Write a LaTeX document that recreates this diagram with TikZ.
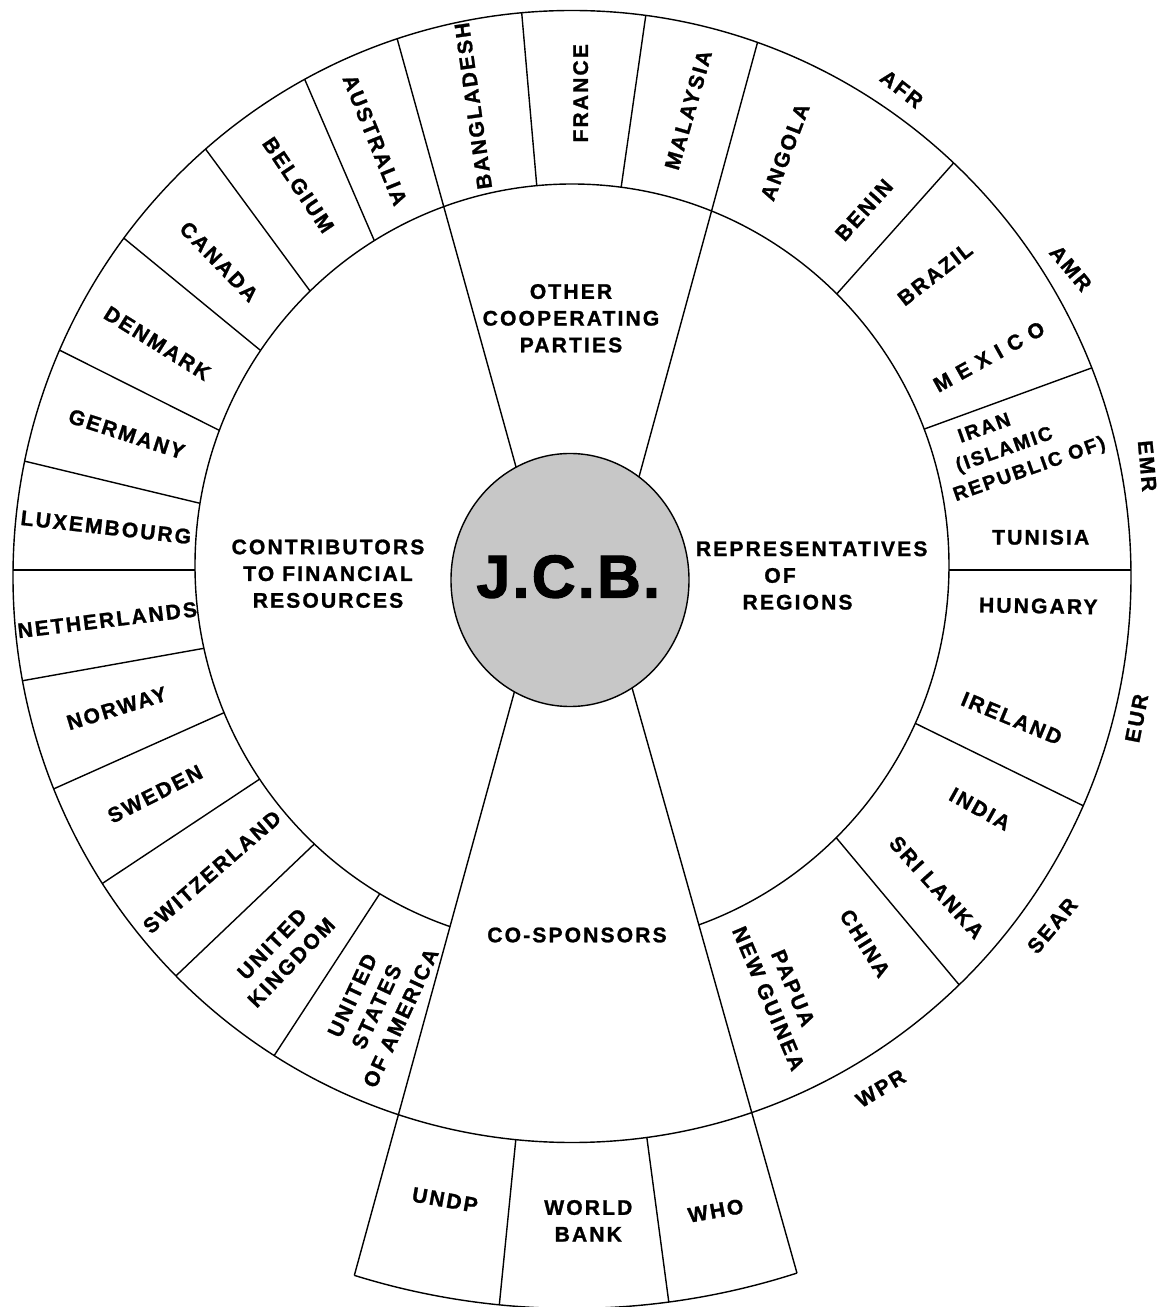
\documentclass[tikz,border=0pt]{standalone}
\usepackage{fontspec}
\usepackage{tikz}
\usetikzlibrary{calc}

\newfontfamily\lblfont{Liberation Sans}[LetterSpace=10, FakeBold=1.2]
\newfontfamily\wideletters{Liberation Sans}[LetterSpace=38, FakeBold=1.2]
\newfontfamily\jcbfont{Liberation Sans}[LetterSpace=4, FakeBold=2]

\begin{document}
\begin{tikzpicture} [x=0.025cm, y=0.025cm, line width=1pt,
  lbl/.style={font=\lblfont\bfseries\fontsize{15pt}{19pt}\selectfont, align=center, inner sep=0pt}]

\useasboundingbox (-572,-736) rectangle (593,571);

\coordinate (oc) at(0,-5.5);
\coordinate (mc) at(0,5.5);
\coordinate (ic) at(-2,-9);

\coordinate (tl) at(-57,107.7);
\coordinate (tlo) at(-174.7,531.7);
\coordinate (tr) at(68,97.7);
\coordinate (tro) at(185.3,527.7);
\coordinate (bl) at(-60.3,-130.7);
\coordinate (br) at(63,-127.3);
\path (oc) ++(252.7:732) coordinate (blo);
\path (oc) ++(287.9:732) coordinate (bro);

\begin{scope}
\clip (oc) ellipse [x radius=559, y radius=566];
\foreach \mx/\my/\ox/\oy in {-198.7/332.7/-267/491, -262.7/281/-367/422.7, -312/221/-448/332.7,
    -352/140.3/-512.7/221, -372/67.7/-548/110, -377/1/-558/1, -368/-77.3/-549.3/-109.7,
    -349.3/-142.3/-517/-217.3, -313.7/-209/-467/-310.7, -258.7/-274/-392.7/-401.7,
    -193.7/-325/-295.3/-480.7, -35.3/386/-50.3/558.3, 49/382.7/74/557,
    264.7/277/381.3/407.7, 349.7/141/518.7/202.7, 374/1/559/1,
    342/-151.7/509.7/-234, 264.7/-267.3/387.3/-414}
  \draw ($(\mx,\my)!-0.1!(\ox,\oy)$) -- ($(\ox,\oy)!-0.1!(\mx,\my)$);
\end{scope}

\fill[white] (mc) ellipse [x radius=377, y radius=381.5];

\begin{scope}
\clip (oc) ellipse [x radius=559, y radius=566];
\draw ($(tl)!-0.05!(tlo)$) -- ($(tlo)!-0.1!(tl)$);
\draw ($(tr)!-0.05!(tro)$) -- ($(tro)!-0.1!(tr)$);
\end{scope}
\draw ($(bl)!-0.03!(blo)$) -- (blo);
\draw ($(br)!-0.03!(bro)$) -- (bro);

\begin{scope}
\clip (blo) -- (bl) -- (br) -- (bro) -- (700,-800) -- (700,700) -- (-700,700) -- (-700,-800) -- cycle;
\draw (mc) ellipse [x radius=377, y radius=381.5];
\end{scope}

\draw (oc) ellipse [x radius=559, y radius=566];
\draw (blo) arc [start angle=252.7, end angle=287.9, radius=732];
\draw ($(oc)+(264.3:565.5)$) -- ($(oc)+(264.3:732)$);
\draw ($(oc)+(277.6:565.5)$) -- ($(oc)+(277.6:732)$);

\draw[fill=black!22] (ic) ellipse [x radius=119, y radius=126.5];
\node[font=\jcbfont\bfseries\fontsize{43pt}{43pt}\selectfont, inner sep=0pt] (jcb) at(-3.7,-5.7) {J.C.B.};

\node[lbl] (other) at(-1,252.7) {OTHER\\COOPERATING\\PARTIES};
\node[lbl] (contrib) at(-244,-2.7) {CONTRIBUTORS\\TO FINANCIAL\\RESOURCES};
\node[lbl, align=left] (reps) at(239.7,-4.5) {REPRESENTATIVES\\\hspace*{1.71cm}OF\\\hspace*{1.165cm}REGIONS};
\node[lbl] (cosp) at(5,-364) {CO-SPONSORS};

\node[lbl, rotate=98] (bangladesh) at(-98.7,465) {BANGLADESH};
\node[lbl, rotate=90] (france) at(8.7,477.7) {FRANCE};
\node[lbl, rotate=74] (malaysia) at(116.3,461) {MALAYSIA};

\node[lbl, rotate=-68] (australia) at(-197,431) {AUSTRALIA};
\node[lbl, rotate=-56] (belgium) at(-273.7,386) {BELGIUM};
\node[lbl, rotate=-46] (canada) at(-353,309.3) {CANADA};
\node[lbl, rotate=-32] (denmark) at(-414.7,227.7) {DENMARK};
\node[lbl, rotate=-18] (germany) at(-445.3,137) {GERMANY};
\node[lbl, rotate=-6.5] (luxembourg) at(-466,43.7) {LUXEMBOURG};
\node[lbl, rotate=7] (netherlands) at(-464.7,-49) {NETHERLANDS};
\node[lbl, rotate=17] (norway) at(-455.3,-137.3) {NORWAY};
\node[lbl, rotate=27] (sweden) at(-417,-223) {SWEDEN};
\node[lbl, rotate=41] (switzerland) at(-360,-301) {SWITZERLAND};
\node[lbl, rotate=46] (uk) at(-290.3,-382.3) {UNITED\\KINGDOM};
\node[lbl, rotate=65] (usa) at(-195.3,-435.7) {UNITED\\STATES\\OF AMERICA};

\node[lbl, rotate=69] (angola) at(213,419) {ANGOLA};
\node[lbl, rotate=48] (benin) at(292,361) {BENIN};
\node[lbl, rotate=38] (brazil) at(363,297) {BRAZIL};
\node[lbl, font=\wideletters\bfseries\fontsize{15pt}{19pt}\selectfont, rotate=29] (mexico) at(417,214.3) {MEXICO};
\node[lbl, font=\lblfont\bfseries\fontsize{14pt}{19pt}\selectfont, align=left, rotate=19.5] (iran) at(448.8,126) {\hspace*{0.6cm}IRAN\\\hspace*{0.3cm}(ISLAMIC\\REPUBLIC OF)};
\node[lbl] (tunisia) at(468.7,33.7) {TUNISIA};
\node[lbl, rotate=-1] (hungary) at(466.3,-35) {HUNGARY};
\node[lbl, rotate=-22.5] (ireland) at(439.7,-147.3) {IRELAND};
\node[lbl, rotate=-29] (india) at(408,-238) {INDIA};
\node[lbl, rotate=-48] (srilanka) at(364.7,-316.3) {SRI LANKA};
\node[lbl, rotate=-58] (china) at(293,-372.3) {CHINA};
\node[lbl, rotate=-67] (png) at(208.7,-422.3) {PAPUA\\NEW GUINEA};

\node[lbl, rotate=-38] (afr) at(329.7,482) {AFR};
\node[lbl, rotate=-50] (amr) at(498.7,302.7) {AMR};
\node[lbl, rotate=-85] (emr) at(575.3,105) {EMR};
\node[lbl, rotate=79] (eur) at(564.7,-147.3) {EUR};
\node[lbl, rotate=50] (sear) at(480.3,-354.7) {SEAR};
\node[lbl, rotate=31] (wpr) at(308.7,-517.3) {WPR};

\node[lbl, rotate=-10] (undp) at(-127,-629) {UNDP};
\node[lbl] (worldbank) at(16.3,-649.8) {WORLD\\BANK};
\node[lbl, rotate=10] (who) at(143.7,-639.7) {WHO};

\end{tikzpicture}
\end{document}
